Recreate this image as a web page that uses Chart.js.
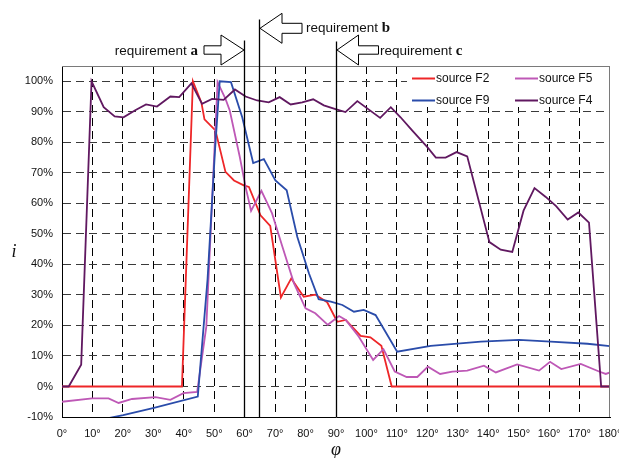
<!DOCTYPE html>
<html>
<head>
<meta charset="utf-8">
<script src="https://cdn.jsdelivr.net/npm/chart.js@4"></script>
<style>
  html, body { margin: 0; padding: 0; background: #fff; }
  #wrap { position: relative; width: 619px; height: 458px; }
</style>
</head>
<body>
<div id="wrap"><canvas id="chart"></canvas></div>
<script>
// values: angle phi (deg) and i (%)
let f2Deg = [0, 39.4, 43, 45.8, 46.8, 50.4, 53.7, 56.5, 59.7, 61.4, 65.2, 68.4, 71.9, 75.3, 79.4, 83.2, 87.1, 90.4, 93.2, 98.1, 101.3, 104.9, 108.3, 180];
let f2Val = [0, 0, 100, 93, 87.5, 83.9, 70.3, 67.5, 65.9, 65.4, 56.1, 52.6, 29.2, 35.4, 29.4, 30.1, 27.6, 21.2, 21.8, 16.6, 16.1, 13.3, 0, 0];

let f5Deg = [0, 9.9, 15.3, 18.6, 23, 30.7, 35.6, 39.9, 44.4, 47.4, 51.1, 53.7, 55.1, 58.4, 60.3, 62.1, 65.5, 69, 72.4, 76.2, 80, 83.2, 87.3, 91, 93.2, 97.5, 102.2, 105.6, 109.3, 113.2, 116.7, 120.2, 124.2, 128.2, 133.1, 138.6, 142.5, 149.5, 156.7, 160.3, 164, 170.4, 176.4, 178.6, 180];
let f5Val = [-5, -3.9, -3.9, -5.4, -4.1, -3.5, -4.4, -2.2, -1.8, 19.6, 99.7, 94.2, 90.4, 75.2, 65.4, 57.5, 64.1, 56.7, 45.8, 33.8, 25.6, 24, 20.2, 23.1, 21.8, 16.3, 8.7, 12.2, 4.9, 3.1, 3.1, 6.5, 4.1, 4.9, 5.2, 6.8, 4.6, 7.2, 5.2, 8.1, 5.7, 7.4, 4.9, 4.1, 4.6];

let f9Deg = [14.1, 20.1, 30.2, 44.6, 47.8, 50.3, 51.8, 55.5, 59.2, 62.8, 66.3, 70.1, 73.8, 77.3, 81.1, 84.3, 88.3, 92.1, 95.9, 99.1, 103, 110.1, 121.1, 137.6, 150.1, 160.5, 172.6, 180];
let f9Val = [-10.6, -9.4, -7, -3.3, 35, 78, 100, 99.7, 88.2, 73.2, 74.5, 67.5, 64.3, 49, 37.1, 28.6, 27.8, 26.7, 24.5, 25.1, 23.4, 11.4, 13.3, 14.7, 15.3, 14.7, 14, 13.2];

let f4Deg = [0, 2.2, 6.3, 9.7, 13.7, 17.3, 20.2, 24.2, 27.6, 31.2, 35.6, 38.5, 42.5, 46, 49.3, 53.1, 56.8, 60.3, 64.1, 67.9, 71.5, 75.1, 78.9, 82.5, 86, 90.1, 93.1, 97, 104.5, 108, 111.2, 115, 120, 122.8, 126, 129.6, 133.1, 140.4, 144.1, 147.9, 151.6, 155.2, 158.9, 162.3, 166.1, 169.6, 173.1, 177.1, 180];
let f4Val = [0, 0, 7.1, 100, 91.5, 88.5, 88.2, 90.6, 92.4, 91.7, 95, 94.8, 99.3, 92.6, 94.2, 93.9, 97.3, 95, 93.7, 93.1, 94.8, 92.4, 93.1, 94.1, 92.1, 90.8, 89.9, 93.5, 88, 91.5, 88.2, 83.9, 78.4, 75, 75, 76.8, 75.4, 47.3, 44.8, 44.1, 57.6, 65, 62.1, 59.1, 54.7, 57, 53.7, 0, 0];

let seriesNames = ["source F2", "source F5", "source F9", "source F4"];
let seriesColors = ["rgb(238,38,40)", "rgb(190,88,182)", "rgb(42,76,170)", "rgb(96,24,96)"];

let reqAngles = [60, 65, 90];
let reqLetters = ["a", "b", "c"];

function pts(xs, ys) {
  return xs.map((v, i) => ({ x: v, y: ys[i] }));
}

const sansFont = "'Liberation Sans', Arial, sans-serif";
const serifFont = "'Liberation Serif', 'Times New Roman', serif";

const extras = {
  id: "extras",
  afterDraw(chart) {
    const { ctx, chartArea: a, scales } = chart;
    const x = scales.x;
    ctx.save();

    // top and right frame
    ctx.strokeStyle = "#7a7a7a";
    ctx.lineWidth = 1;
    ctx.beginPath();
    ctx.moveTo(a.left, Math.round(a.top) + 0.5);
    ctx.lineTo(a.right, Math.round(a.top) + 0.5);
    ctx.moveTo(Math.round(a.right) - 0.5, a.top);
    ctx.lineTo(Math.round(a.right) - 0.5, a.bottom);
    ctx.stroke();

    // requirement lines, on the same pixels as the grid lines
    const tops = [40.5, 19.5, 41.5];
    ctx.strokeStyle = "#000";
    ctx.lineWidth = 1.3;
    let px = reqAngles.map((d) => Math.round(x.getPixelForValue(d) - 0.5) + 0.5);
    px.forEach((p, i) => {
      ctx.beginPath();
      ctx.moveTo(p, tops[i]);
      ctx.lineTo(p, a.bottom);
      ctx.stroke();
    });

    // arrows
    function arrow(tip, cy, dir, headLen, headHalf, bodyLen, bodyHalf) {
      const hb = tip - dir * headLen;
      const end = tip - dir * (headLen + bodyLen);
      ctx.beginPath();
      ctx.moveTo(tip, cy);
      ctx.lineTo(hb, cy - headHalf);
      ctx.lineTo(hb, cy - bodyHalf);
      ctx.lineTo(end, cy - bodyHalf);
      ctx.lineTo(end, cy + bodyHalf);
      ctx.lineTo(hb, cy + bodyHalf);
      ctx.lineTo(hb, cy + headHalf);
      ctx.closePath();
      ctx.fillStyle = "#fff";
      ctx.fill();
      ctx.strokeStyle = "#000";
      ctx.lineWidth = 1;
      ctx.stroke();
    }
    arrow(px[0] - 0.5, 50, 1, 23, 15, 17, 4.2);
    arrow(px[1] + 0.5, 28.3, -1, 22, 15, 20, 5);
    arrow(px[2] + 0.5, 50, -1, 21.5, 15, 20, 4.2);

    // requirement labels
    function label(left, base, letter, alignRight) {
      ctx.fillStyle = "#111";
      ctx.textBaseline = "alphabetic";
      ctx.textAlign = "left";
      const word = "requirement ";
      ctx.font = "13.5px " + sansFont;
      const w1 = ctx.measureText(word).width;
      ctx.font = "bold 15px " + serifFont;
      const w2 = ctx.measureText(letter).width;
      const start = alignRight ? left - w1 - w2 : left;
      ctx.font = "13.5px " + sansFont;
      ctx.fillText(word, start, base);
      ctx.font = "bold 15px " + serifFont;
      ctx.fillText(letter, start + w1, base);
    }
    label(198, 54.5, reqLetters[0], true);
    label(306, 32, reqLetters[1], false);
    label(380, 54.5, reqLetters[2], false);

    // legend
    ctx.fillStyle = "#fff";
    ctx.fillRect(407, a.top + 1, a.right - 408, 40);
    const cols = [412, 515];
    const rows = [78.5, 100.5];
    const slots = [[0, 0], [1, 0], [0, 1], [1, 1]];
    ctx.font = "12px " + sansFont;
    ctx.textBaseline = "middle";
    ctx.textAlign = "left";
    seriesNames.forEach((name, k) => {
      const cx = cols[slots[k][0]];
      const cy = rows[slots[k][1]];
      ctx.strokeStyle = seriesColors[k];
      ctx.lineWidth = 2;
      ctx.beginPath();
      ctx.moveTo(cx, cy);
      ctx.lineTo(cx + 23, cy);
      ctx.stroke();
      ctx.fillStyle = "#111";
      ctx.fillText(name, cx + 24, cy);
    });

    // axis titles
    ctx.fillStyle = "#111";
    ctx.textAlign = "center";
    ctx.textBaseline = "middle";
    ctx.font = "italic 18px " + serifFont;
    ctx.fillText("i", 14, 252);
    ctx.fillText("\u03c6", x.getPixelForValue(90), 450);

    ctx.restore();
  },
};

new Chart("chart", {
  type: "line",
  data: {
    datasets: [
      { label: seriesNames[0], data: pts(f2Deg, f2Val), borderColor: seriesColors[0], order: 4 },
      { label: seriesNames[1], data: pts(f5Deg, f5Val), borderColor: seriesColors[1], order: 3 },
      { label: seriesNames[2], data: pts(f9Deg, f9Val), borderColor: seriesColors[2], order: 2 },
      { label: seriesNames[3], data: pts(f4Deg, f4Val), borderColor: seriesColors[3], order: 1 },
    ],
  },
  options: {
    responsive: true,
    maintainAspectRatio: false,
    animation: false,
    devicePixelRatio: 1,
    elements: {
      point: { radius: 0 },
      line: { borderWidth: 1.8, tension: 0, fill: false },
    },
    layout: { padding: { left: 0, top: 66, right: 9, bottom: 0 } },
    plugins: {
      legend: { display: false },
      title: { display: false },
      tooltip: { enabled: false },
    },
    scales: {
      x: {
        type: "linear",
        min: 0,
        max: 180,
        afterFit(scale) {
          scale.height = 41;
          scale.paddingLeft = 0;
          scale.paddingRight = 0;
        },
        ticks: {
          stepSize: 10,
          padding: 10,
          color: "#111",
          font: { family: sansFont, size: 11 },
          maxRotation: 0,
          autoSkip: false,
          callback: (v) => v + "\u00b0",
        },
        grid: {
          drawTicks: false,
          lineWidth: 1,
          color: (c) => (c.tick && c.tick.value > 0 && c.tick.value < 180 ? "#000" : "rgba(0,0,0,0)"),
        },
        border: { display: true, color: "#000", width: 1, dash: [8, 5] },
      },
      y: {
        min: -10,
        max: 105,
        afterBuildTicks(scale) {
          scale.ticks = scale.ticks.filter((t) => t.value <= 100);
        },
        afterFit(scale) {
          scale.width = 62;
        },
        ticks: {
          stepSize: 10,
          padding: 9,
          color: "#111",
          font: { family: sansFont, size: 11 },
          callback: (v) => v + "%",
        },
        grid: {
          drawTicks: false,
          lineWidth: 1,
          color: (c) => (c.tick && c.tick.value > -10 ? "#3a3a3a" : "rgba(0,0,0,0)"),
        },
        border: { display: true, color: "#000", width: 1, dash: [8, 5] },
      },
    },
  },
  plugins: [extras],
});
</script>
</body>
</html>
